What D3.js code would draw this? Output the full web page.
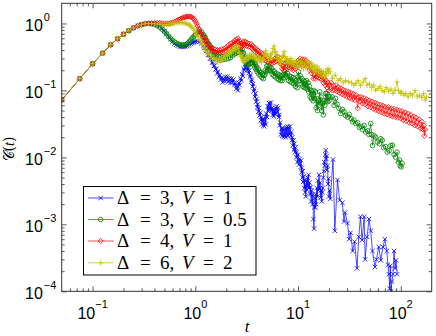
<!DOCTYPE html>
<html>
<head>
<meta charset="utf-8">
<script src="https://cdn.jsdelivr.net/npm/d3@7"></script>
<style>
  body { margin: 0; background: #fff; }
  svg { display: block; }
</style>
</head>
<body>
<div id="chart"></div>
<script>
// log-log plot of C(t), four parameter sets

// shared start of all four curves
var common = [[0.05,0.072],[0.075,0.15],[0.1,0.25],[0.125,0.36],[0.15,0.48],[0.175,0.59],[0.2,0.69],[0.225,0.78],[0.25,0.86],[0.275,0.92],[0.3,0.96],[0.325,0.99]];

// Delta = 3, V = 1
var blueData = common.concat([[0.35,1.0],[0.375,1.0],[0.4,0.98],[0.425,0.95],[0.45,0.9],[0.475,0.84],[0.5,0.77],[0.525,0.7],[0.55,0.63],[0.575,0.58],[0.6,0.54],[0.625,0.5],[0.65,0.48],[0.675,0.465],[0.7,0.455],[0.725,0.45],[0.75,0.45],[0.775,0.45],[0.8,0.455],[0.825,0.46],[0.85,0.47],[0.875,0.485],[0.9,0.5],[0.925,0.51],[0.95,0.52],[0.975,0.53],[1.0,0.535],[1.05,0.54],[1.1,0.53],[1.15,0.5],
  [1.2,0.47],[1.22,0.43],[1.25,0.43],[1.28,0.39],[1.3,0.39],[1.33,0.34],[1.36,0.34],[1.39,0.3],[1.42,0.3],[1.45,0.26],[1.48,0.265],[1.51,0.23],[1.54,0.235],[1.57,0.205],[1.6,0.21],[1.63,0.18],[1.66,0.19],[1.7,0.16],[1.73,0.17],[1.77,0.145],[1.8,0.155],[1.84,0.132],[1.88,0.15],[1.92,0.138],[1.96,0.16],[2.0,0.14],[2.05,0.16],[2.1,0.135],[2.15,0.152],[2.2,0.13],[2.25,0.15],[2.3,0.132],[2.35,0.145],[2.4,0.12],[2.45,0.128],[2.5,0.105],[2.55,0.118],[2.6,0.1],[2.65,0.13],[2.7,0.12],[2.75,0.15],[2.8,0.14],[2.85,0.175],[2.9,0.165],[2.95,0.21],[3.0,0.2],[3.05,0.245],[3.1,0.22],[3.15,0.245],[3.2,0.2],[3.25,0.22],[3.3,0.18],[3.35,0.2],[3.4,0.16],[3.45,0.17],[3.5,0.135],[3.55,0.145],[3.6,0.115],[3.65,0.125],[3.7,0.097],[3.75,0.105],[3.8,0.08],[3.85,0.09],[3.9,0.068],[3.95,0.075],[4.0,0.056],[4.05,0.062],[4.1,0.048],[4.15,0.055],[4.2,0.042],[4.3,0.047],[4.35,0.036],[4.4,0.04],[4.45,0.031],[4.5,0.037],[4.6,0.03],[4.65,0.037],[4.7,0.029],[4.8,0.04],[4.85,0.031],[4.9,0.045],[5.0,0.04],[5.05,0.058],[5.1,0.05],[5.2,0.065],[5.25,0.053],[5.3,0.064],[5.4,0.052],[5.45,0.066],[5.5,0.05],[5.6,0.055],[5.65,0.043],[5.7,0.05],[5.8,0.041],[5.85,0.05],[5.95,0.044],[6.0,0.055],[6.1,0.045],[6.2,0.058],[6.3,0.048],[6.4,0.055],[6.5,0.04],[6.55,0.043],[6.65,0.03],[6.7,0.033],[6.8,0.022],[6.9,0.027],[7.0,0.021],[7.1,0.027],[7.2,0.02],[7.3,0.026],[7.4,0.021],[7.5,0.027],[7.6,0.02],[7.7,0.028],[7.8,0.022],[7.9,0.029],[8.0,0.021],[8.1,0.028],[8.2,0.022],[8.35,0.029],[8.5,0.021],[8.6,0.024],[8.7,0.018],[8.8,0.02],[8.9,0.015],[9.0,0.018],[9.1,0.013],[9.2,0.016],[9.3,0.012],[9.45,0.014],[9.6,0.01],[9.7,0.012],[9.85,0.0085],[10.0,0.011],[10.2,0.0078],[10.4,0.0095],[10.6,0.0072],[10.7,0.009],[10.8,0.006],[10.9,0.007],[11.0,0.005],[11.1,0.0062],[11.2,0.0043],[11.35,0.0052],[11.5,0.0035],[11.6,0.0045],[11.7,0.003],[11.8,0.0038],[11.9,0.0026],[12.0,0.0045],[12.2,0.0033],[12.35,0.005],[12.5,0.0038],[12.65,0.0055],[12.8,0.0035],[12.95,0.0042],[13.1,0.0028],[13.25,0.0036],[13.4,0.0022],[13.6,0.0032],[13.8,0.002],[13.95,0.0028],[14.1,0.0012],[14.3,0.00086],[14.45,0.0018],[14.6,0.0025],[14.75,0.0018],[14.9,0.0028],[15.05,0.002],[15.2,0.0035],[15.4,0.0026],[15.6,0.0045],[15.8,0.0032],[16.0,0.0055],[16.2,0.0034],[16.4,0.0042],[16.6,0.0025],[16.8,0.0032],[17.0,0.0022],[17.2,0.003],[17.4,0.0035],[17.6,0.005],[17.8,0.0062],[18.0,0.0085],[18.2,0.0075],[18.4,0.011],[18.6,0.0128],[18.8,0.0095],[19.0,0.0105],[19.2,0.0065],[19.4,0.0075],[19.6,0.004],[19.8,0.0048],[20.0,0.0026],[20.3,0.0032],[20.6,0.0024],
  [21.9,0.0093],[22.8,0.0008],[24.2,0.0046],[25.4,0.0023],[27.0,0.0021],[28.0,0.0011],[28.7,0.0015],[30.3,0.00104],[31.4,0.0006],[32.5,0.00075],[34.0,0.0004],[35.5,0.00055],[37.5,0.00022],[39.0,0.00065],[40.5,0.0013],[42.0,0.00058],[44.0,0.0013],[45.0,0.0003],[47.0,0.00065],[49.0,0.0012],[51.0,0.0008],[53.0,0.0004],[56.0,0.00023],[58.0,0.0003],[61.0,0.00046],[64.0,0.00029],[67.0,0.00046],[70.0,0.0006],[73.0,0.0004],[75.0,0.00025],[76.5,0.00018],[78.0,0.00011],[79.0,0.00024],[80.5,0.0001],[82.0,0.00014],[84.0,0.00018],[86.0,0.0004],[88.0,0.00022],[90.0,0.00029],[92.0,0.00018]]);

// Delta = 3, V = 0.5
var greenData = common.concat([[0.35,1.0],[0.375,0.99],[0.4,0.97],[0.425,0.93],[0.45,0.88],[0.475,0.82],[0.5,0.76],[0.525,0.7],[0.55,0.64],[0.575,0.59],[0.6,0.56],[0.625,0.53],[0.65,0.51],[0.675,0.495],[0.7,0.485],[0.725,0.478],[0.75,0.475],[0.775,0.475],[0.8,0.478],[0.825,0.49],[0.85,0.51],[0.875,0.535],[0.9,0.56],[0.925,0.59],[0.95,0.62],[0.975,0.65],[1.0,0.68],[1.05,0.72],[1.1,0.75],[1.15,0.74],
  [1.2,0.68],[1.22,0.63],[1.25,0.62],[1.28,0.55],[1.3,0.55],[1.33,0.48],[1.36,0.49],[1.39,0.43],[1.42,0.44],[1.45,0.38],[1.48,0.39],[1.51,0.34],[1.54,0.35],[1.57,0.31],[1.6,0.33],[1.64,0.29],[1.68,0.32],[1.72,0.285],[1.76,0.315],[1.8,0.285],[1.85,0.32],[1.9,0.29],[1.95,0.325],[2.0,0.295],[2.05,0.33],[2.1,0.3],[2.15,0.34],[2.2,0.31],[2.25,0.355],[2.3,0.33],[2.35,0.375],[2.4,0.35],[2.45,0.39],[2.5,0.36],[2.55,0.4],[2.6,0.37],[2.65,0.41],[2.7,0.375],[2.75,0.41],[2.8,0.38],[2.85,0.41],[2.9,0.36],[2.95,0.36],[3.0,0.3],[3.05,0.31],[3.1,0.26],[3.15,0.28],[3.2,0.24],[3.25,0.27],[3.3,0.24],[3.35,0.28],[3.4,0.25],[3.45,0.3],[3.5,0.26],[3.55,0.3],[3.6,0.26],[3.65,0.28],[3.7,0.24],[3.75,0.26],[3.8,0.22],[3.85,0.245],[3.9,0.205],[3.95,0.225],[4.0,0.19],[4.1,0.21],[4.15,0.175],[4.2,0.195],[4.3,0.165],[4.35,0.185],[4.45,0.155],[4.5,0.175],[4.6,0.15],[4.65,0.17],[4.75,0.17],[4.8,0.2],[4.9,0.19],[4.95,0.23],[5.05,0.2],[5.1,0.235],[5.2,0.2],[5.3,0.23],[5.4,0.195],[5.5,0.215],[5.6,0.175],[5.7,0.2],[5.8,0.165],[5.9,0.19],[6.0,0.16],[6.1,0.18],[6.25,0.15],[6.35,0.175],[6.5,0.145],[6.6,0.17],[6.75,0.14],[6.85,0.165],[7.0,0.14],[7.1,0.17],[7.25,0.155],[7.4,0.19],[7.5,0.17],[7.6,0.2],[7.75,0.16],[7.9,0.18],[8.05,0.14],[8.2,0.165],[8.4,0.135],[8.55,0.16],[8.75,0.13],[8.9,0.155],[9.1,0.125],[9.25,0.15],[9.45,0.115],[9.6,0.14],[9.8,0.11],[9.95,0.16],[10.1,0.19],[10.3,0.14],[10.5,0.165],[10.7,0.125],[10.9,0.15],[11.1,0.115],[11.3,0.14],[11.5,0.11],[11.7,0.135],[11.9,0.11],[12.1,0.14],[12.3,0.105],[12.5,0.13],[12.7,0.095],[12.9,0.115],[13.1,0.08],[13.3,0.1],[13.5,0.075],[13.75,0.095],[14.0,0.07],[14.25,0.1],[14.5,0.075],[14.75,0.095],[15.0,0.055],[15.25,0.075],[15.5,0.05],[15.75,0.07],[16.0,0.06],[16.25,0.095],[16.5,0.065],[16.75,0.08],[17.0,0.05],[17.3,0.065],[17.6,0.043],[17.9,0.07],[18.2,0.06],[18.5,0.09],[18.8,0.07],[19.1,0.09],[19.4,0.068],[19.7,0.082],[20.0,0.07],[20.4,0.08],
  [21.5,0.08],[22.4,0.06],[23.2,0.076],[24,0.062],[25,0.054],[26,0.045],[27,0.052],[28,0.048],[29,0.042],[30.3,0.04],[31.5,0.044],[32.8,0.038],[34,0.034],[35,0.036],[36.5,0.032],[38,0.033],[39.5,0.028],[41,0.029],[42.5,0.026],[44,0.03],[45.5,0.024],[47.5,0.025],[49,0.022],[51,0.032],[52,0.022],[53,0.015],[55,0.021],[57,0.02],[59,0.017],[62,0.016],[64,0.019],[66,0.018],[68,0.014],[71,0.0145],[74,0.012],[77,0.0126],[80,0.015],[83,0.0152],[86,0.011],[89,0.0101],[92,0.012],[95,0.0085],[97,0.0091],[99,0.0075],[101,0.0072],[103,0.0082]]);

// Delta = 4, V = 1
var redData = common.concat([[0.35,1.0],[0.375,1.01],[0.4,1.02],[0.425,1.02],[0.45,1.02],[0.475,1.01],[0.5,1.0],[0.525,1.0],[0.55,1.0],[0.575,1.01],[0.6,1.03],[0.625,1.06],[0.65,1.09],[0.675,1.12],[0.7,1.15],[0.725,1.18],[0.75,1.21],[0.775,1.23],[0.8,1.25],[0.825,1.26],[0.85,1.27],[0.875,1.27],[0.9,1.26],[0.925,1.24],[0.95,1.2],[0.975,1.15],[1.0,1.08],[1.025,1.0],[1.05,0.92],[1.075,0.84],
  [1.1,0.8],[1.12,0.72],[1.15,0.7],[1.18,0.63],[1.2,0.62],[1.23,0.55],[1.26,0.56],[1.29,0.5],[1.32,0.51],[1.35,0.45],[1.38,0.47],[1.41,0.42],[1.44,0.44],[1.47,0.39],[1.5,0.42],[1.53,0.375],[1.56,0.41],[1.6,0.365],[1.64,0.4],[1.68,0.36],[1.72,0.4],[1.76,0.36],[1.8,0.41],[1.85,0.37],[1.9,0.42],[1.95,0.39],[2.0,0.44],[2.05,0.41],[2.1,0.47],[2.15,0.43],[2.2,0.5],[2.25,0.45],[2.3,0.52],[2.35,0.48],[2.4,0.55],[2.45,0.5],[2.5,0.58],[2.55,0.53],[2.6,0.6],[2.65,0.52],[2.7,0.54],[2.75,0.46],[2.8,0.5],[2.85,0.46],[2.9,0.53],[2.95,0.48],[3.0,0.54],[3.05,0.48],[3.1,0.53],[3.15,0.46],[3.2,0.51],[3.3,0.45],[3.35,0.5],[3.45,0.44],[3.5,0.49],[3.6,0.42],[3.65,0.46],[3.75,0.39],[3.8,0.43],[3.9,0.37],[3.95,0.41],[4.05,0.35],[4.1,0.39],[4.2,0.33],[4.3,0.37],[4.4,0.31],[4.5,0.35],[4.6,0.3],[4.7,0.33],[4.8,0.28],[4.9,0.31],[5.0,0.27],[5.1,0.3],[5.2,0.255],[5.35,0.29],[5.5,0.25],[5.65,0.28],[5.8,0.26],[5.95,0.3],[6.1,0.27],[6.25,0.32],[6.4,0.28],[6.55,0.31],[6.7,0.25],[6.85,0.26],[7.0,0.21],[7.15,0.23],[7.3,0.2],[7.45,0.25],[7.6,0.23],[7.75,0.27],[7.9,0.23],[8.05,0.27],[8.2,0.22],[8.4,0.26],[8.6,0.21],[8.8,0.24],[9.0,0.2],[9.2,0.24],[9.4,0.21],[9.6,0.26],[9.8,0.23],[10.0,0.28],[10.2,0.24],[10.5,0.3],[10.7,0.25],[11.0,0.29],[11.2,0.24],[11.5,0.29],[11.7,0.24],[12.0,0.28],[12.3,0.23],[12.6,0.26],[12.9,0.2],[13.2,0.23],[13.5,0.18],[13.8,0.2],[14.1,0.15],[14.4,0.17],[14.7,0.15],[15.0,0.19],[15.3,0.16],[15.6,0.19],[15.9,0.155],[16.2,0.18],[16.5,0.15],[16.8,0.18],[17.1,0.145],[17.4,0.165],[17.7,0.13],[18.0,0.15],[18.4,0.12],[18.8,0.14],[19.2,0.11],[19.6,0.13],[20.0,0.1],[20.4,0.12],
  [21,0.13],[21.6,0.1],[22.2,0.118],[22.8,0.1],[23.4,0.12],[24,0.096],[24.7,0.112],[25.4,0.092],[26.1,0.108],[26.8,0.088],[27.6,0.102],[28.4,0.084],[29.2,0.098],[30,0.08],[30.9,0.095],[31.8,0.077],[32.7,0.092],[33.7,0.074],[34.7,0.088],[35.7,0.072],[36.8,0.085],[38,0.054],[39,0.08],[40,0.068],[41.2,0.08],[42.4,0.064],[43.7,0.077],[45,0.062],[46.4,0.074],[47.8,0.058],[49.3,0.071],[50.8,0.056],[52.4,0.068],[54,0.053],[55.7,0.066],[57.4,0.051],[59.2,0.063],[61,0.049],[63,0.061],[65,0.047],[67,0.059],[69,0.045],[71.2,0.057],[73.4,0.044],[75.7,0.056],[78,0.042],[80.5,0.054],[83,0.041],[85.6,0.053],[88.3,0.04],[91,0.052],[94,0.039],[97,0.05],[100,0.038],[103,0.049],[106,0.036],[110,0.047],[113,0.035],[117,0.045],[121,0.033],[125,0.043],[129,0.032],[133,0.041],[137,0.03],[141,0.039],[146,0.029],[151,0.037],[156,0.027],[161,0.034],[165,0.026],[168,0.03],[170,0.021],[173,0.026]]);

// Delta = 6, V = 2
var yellowData = common.concat([[0.35,1.0],[0.375,1.0],[0.4,0.99],[0.425,0.98],[0.45,0.97],[0.475,0.96],[0.5,0.96],[0.525,0.96],[0.55,0.97],[0.575,0.98],[0.6,0.99],[0.625,1.0],[0.65,1.01],[0.675,1.02],[0.7,1.03],[0.725,1.03],[0.75,1.03],[0.775,1.02],[0.8,1.01],[0.825,0.99],[0.85,0.97],[0.875,0.95],[0.9,0.92],[0.925,0.88],[0.95,0.84],[0.975,0.79],
  [1.0,0.74],[1.03,0.67],[1.06,0.64],[1.09,0.57],[1.12,0.55],[1.15,0.49],[1.18,0.48],[1.21,0.43],[1.24,0.43],[1.27,0.38],[1.3,0.39],[1.33,0.34],[1.36,0.36],[1.4,0.31],[1.44,0.33],[1.48,0.29],[1.52,0.31],[1.56,0.27],[1.6,0.3],[1.65,0.265],[1.7,0.3],[1.75,0.27],[1.8,0.31],[1.85,0.28],[1.9,0.33],[1.95,0.3],[2.0,0.35],[2.05,0.32],[2.1,0.37],[2.15,0.34],[2.2,0.39],[2.25,0.36],[2.3,0.41],[2.35,0.38],[2.4,0.43],[2.45,0.4],[2.5,0.46],[2.55,0.42],[2.6,0.44],[2.65,0.37],[2.7,0.37],[2.75,0.32],[2.8,0.33],[2.85,0.28],[2.9,0.3],[2.95,0.26],[3.0,0.29],[3.05,0.27],[3.1,0.31],[3.15,0.29],[3.2,0.33],[3.3,0.3],[3.35,0.34],[3.45,0.31],[3.5,0.35],[3.6,0.31],[3.7,0.36],[3.8,0.3],[3.9,0.33],[4.0,0.28],[4.1,0.31],[4.2,0.27],[4.3,0.3],[4.4,0.26],[4.5,0.3],[4.6,0.29],[4.7,0.35],[4.8,0.33],[4.85,0.39],[4.95,0.32],[5.05,0.34],[5.15,0.28],[5.25,0.32],[5.35,0.3],[5.45,0.36],[5.55,0.34],[5.7,0.42],[5.85,0.46],[5.95,0.37],[6.05,0.38],[6.2,0.3],[6.3,0.33],[6.45,0.27],[6.55,0.3],[6.7,0.24],[6.8,0.27],[6.95,0.28],[7.05,0.33],[7.2,0.32],[7.3,0.38],[7.45,0.3],[7.6,0.32],[7.75,0.26],[7.9,0.29],[8.05,0.25],[8.2,0.28],[8.35,0.25],[8.5,0.3],[8.7,0.25],[8.9,0.28],[9.1,0.23],[9.3,0.26],[9.5,0.22],[9.7,0.26],[9.9,0.23],[10.1,0.28],[10.3,0.23],[10.6,0.27],[10.8,0.22],[11.1,0.26],[11.3,0.21],[11.6,0.25],[11.9,0.22],[12.2,0.28],[12.5,0.22],[12.8,0.26],[13.1,0.21],[13.4,0.26],[13.7,0.21],[14.0,0.24],[14.3,0.19],[14.6,0.23],[15.0,0.19],[15.3,0.23],[15.7,0.18],[16.0,0.21],[16.4,0.17],[16.8,0.2],[17.2,0.16],[17.6,0.19],[18.0,0.16],[18.4,0.19],[18.8,0.17],[19.2,0.21],[19.6,0.18],[20.0,0.21],[20.5,0.19],
  [21.6,0.15],[23,0.17],[24.5,0.14],[26,0.15],[27.5,0.13],[29,0.14],[31,0.134],[33,0.13],[35,0.12],[36.5,0.127],[38.5,0.14],[40.5,0.118],[43,0.134],[45,0.15],[47,0.12],[49.5,0.125],[52,0.11],[54.5,0.12],[57,0.1],[60,0.107],[63,0.115],[66,0.1],[69,0.095],[72,0.11],[76,0.098],[80,0.105],[84,0.09],[88,0.1],[92,0.134],[95,0.1],[99,0.09],[102,0.095],[107,0.085],[112,0.09],[118,0.08],[124,0.09],[130,0.085],[138,0.1],[145,0.08],[152,0.085],[160,0.078],[167,0.09],[173,0.072],[178,0.08]]);

var seriesColors = ["#0000ff", "#008000", "#ff0000", "#bfbf00"];
var seriesMarkers = ["x", "circle", "diamond", "plus"];
var legendDelta = ["3", "3", "4", "6"];
var legendV = ["1", "0.5", "1", "2"];
var xTickExp = [-1, 0, 1, 2];
var yTickExp = [-4, -3, -2, -1, 0];

var allData = [blueData, greenData, redData, yellowData];

var width = 436, height = 336;
var plot = {left: 61.7, right: 431.7, top: 3.3, bottom: 291.3};

var svg = d3.select("#chart")
  .append("svg")
  .attr("width", width)
  .attr("height", height);

svg.append("rect").attr("width", width).attr("height", height).attr("fill", "#fff");

var x = d3.scaleLog().domain([0.05, 200]).range([plot.left, plot.right]);
var y = d3.scaleLog().domain([1e-4, 2]).range([plot.bottom, plot.top]);

// clip
svg.append("clipPath").attr("id", "clip")
  .append("rect")
  .attr("x", plot.left).attr("y", plot.top)
  .attr("width", plot.right - plot.left).attr("height", plot.bottom - plot.top);

// marker shapes
function markerPath(kind) {
  if (kind === "x") { var a = 2.2; return "M" + -a + "," + -a + "L" + a + "," + a + "M" + -a + "," + a + "L" + a + "," + -a; }
  if (kind === "plus") { var b = 2.7; return "M" + -b + ",0L" + b + ",0M0," + -b + "L0," + b; }
  if (kind === "diamond") { var c = 2.6; return "M0," + -c + "L" + c + ",0L0," + c + "L" + -c + ",0Z"; }
  var r = 2.3;
  return "M" + r + ",0A" + r + "," + r + " 0 1,1 " + -r + ",0A" + r + "," + r + " 0 1,1 " + r + ",0Z";
}

var line = d3.line()
  .x(function(d) { return x(d[0]); })
  .y(function(d) { return y(d[1]); });

var plotArea = svg.append("g").attr("clip-path", "url(#clip)");

allData.forEach(function(data, i) {
  var g = plotArea.append("g");
  g.append("path")
    .datum(data)
    .attr("fill", "none")
    .attr("stroke", seriesColors[i])
    .attr("stroke-width", 0.7)
    .attr("d", line);
  g.selectAll("path.m")
    .data(data)
    .join("path")
    .attr("class", "m")
    .attr("transform", function(d) { return "translate(" + x(d[0]) + "," + y(d[1]) + ")"; })
    .attr("d", markerPath(seriesMarkers[i]))
    .attr("fill", "none")
    .attr("stroke", seriesColors[i])
    .attr("stroke-width", 0.8);
});

// axes: ticks point inward on all four sides
var axisColor = "#333";
function minorTicks(lo, hi) {
  var out = [];
  for (var e = -5; e <= 3; e++) {
    for (var k = 2; k <= 9; k++) {
      var v = k * Math.pow(10, e);
      if (v > lo * 1.0001 && v < hi * 0.9999) out.push(v);
    }
  }
  return out;
}
var xMajor = xTickExp.map(function(e) { return Math.pow(10, e); });
var yMajor = yTickExp.map(function(e) { return Math.pow(10, e); });
var xMinor = minorTicks(0.05, 200);
var yMinor = minorTicks(1e-4, 2);

function drawAxis(axisFn, scale, values, size, transform) {
  var g = svg.append("g")
    .attr("transform", transform)
    .call(axisFn(scale).tickValues(values).tickSizeInner(-size).tickSizeOuter(0).tickFormat(function() { return ""; }));
  g.select(".domain").remove();
  g.selectAll("line").attr("stroke", axisColor).attr("stroke-width", 0.8);
}
drawAxis(d3.axisBottom, x, xMajor, 5, "translate(0," + plot.bottom + ")");
drawAxis(d3.axisBottom, x, xMinor, 3, "translate(0," + plot.bottom + ")");
drawAxis(d3.axisTop, x, xMajor, 5, "translate(0," + plot.top + ")");
drawAxis(d3.axisTop, x, xMinor, 3, "translate(0," + plot.top + ")");
drawAxis(d3.axisLeft, y, yMajor, 5, "translate(" + plot.left + ",0)");
drawAxis(d3.axisLeft, y, yMinor, 3, "translate(" + plot.left + ",0)");
drawAxis(d3.axisRight, y, yMajor, 5, "translate(" + plot.right + ",0)");
drawAxis(d3.axisRight, y, yMinor, 3, "translate(" + plot.right + ",0)");

svg.append("rect")
  .attr("x", plot.left).attr("y", plot.top)
  .attr("width", plot.right - plot.left).attr("height", plot.bottom - plot.top)
  .attr("fill", "none").attr("stroke", axisColor).attr("stroke-width", 1);

// tick labels 10^e
function expText(e) { return e < 0 ? "\u2212" + (-e) : String(e); }

xTickExp.forEach(function(e) {
  var t = svg.append("text")
    .attr("x", x(Math.pow(10, e)))
    .attr("y", 318.5)
    .attr("text-anchor", "middle")
    .style("font-family", "'Liberation Sans', Arial, sans-serif")
    .style("font-size", "16px")
    .attr("fill", "#000");
  t.append("tspan").text("10");
  t.append("tspan").attr("dy", -11).style("font-size", "11px").text(expText(e));
});

yTickExp.forEach(function(e) {
  var t = svg.append("text")
    .attr("x", 25)
    .attr("y", y(Math.pow(10, e)) + 7.4)
    .style("font-family", "'Liberation Sans', Arial, sans-serif")
    .style("font-size", "16px")
    .attr("fill", "#000");
  t.append("tspan").text("10");
  t.append("tspan").attr("dy", -10).attr("dx", 1).style("font-size", "11px").text(expText(e));
});

// axis labels
svg.append("text")
  .attr("x", 247)
  .attr("y", 332)
  .attr("text-anchor", "middle")
  .style("font-family", "'Liberation Serif', 'DejaVu Serif', serif")
  .style("font-style", "italic")
  .style("font-size", "17px")
  .text("t");

var yl = svg.append("text")
  .attr("transform", "translate(14,149) rotate(-90)")
  .attr("text-anchor", "middle")
  .style("font-family", "'DejaVu Serif', 'Liberation Serif', serif")
  .style("font-size", "14px");
yl.append("tspan").text("\uD835\uDC9E(");
yl.append("tspan").style("font-style", "italic").style("font-family", "'Liberation Serif', serif").text("t");
yl.append("tspan").text(")");

// legend
var legend = svg.append("g");
legend.append("rect")
  .attr("x", 83.5).attr("y", 186.5)
  .attr("width", 172.5).attr("height", 88.5)
  .attr("fill", "#fff").attr("stroke", "#000").attr("stroke-width", 1);

var rowY = [198, 219.5, 241, 262.8];
var legendFont = "'Liberation Serif', 'DejaVu Serif', serif";
legendDelta.forEach(function(dl, i) {
  var cy = rowY[i];
  var base = cy + 6.2;
  legend.append("line")
    .attr("x1", 88).attr("x2", 113.5).attr("y1", cy).attr("y2", cy)
    .attr("stroke", seriesColors[i]).attr("stroke-width", 0.7);
  legend.append("path")
    .attr("transform", "translate(100.7," + cy + ")")
    .attr("d", markerPath(seriesMarkers[i]))
    .attr("fill", "none").attr("stroke", seriesColors[i]).attr("stroke-width", 0.8);
  // pieces placed one by one, math style spacing
  var pieces = [
    {x: 117, s: "\u0394", it: false},
    {x: 140, s: "=", it: false},
    {x: 160, s: dl + ",", it: false},
    {x: 182, s: "V", it: true},
    {x: 203, s: "=", it: false},
    {x: 223, s: legendV[i], it: false}
  ];
  pieces.forEach(function(p) {
    legend.append("text")
      .attr("x", p.x).attr("y", base)
      .style("font-family", legendFont)
      .style("font-style", p.it ? "italic" : "normal")
      .style("font-size", "19px")
      .attr("fill", "#000")
      .text(p.s);
  });
});
</script>
</body>
</html>
